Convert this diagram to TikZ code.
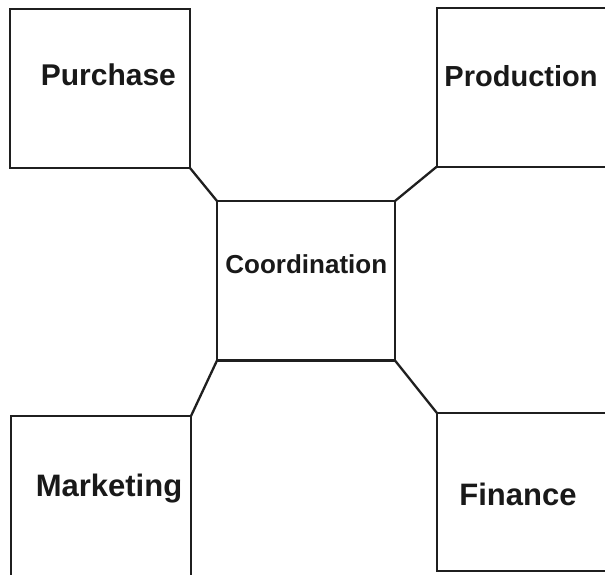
\documentclass[tikz,border=0pt]{standalone}
\usepackage{fontspec}
\setmainfont{Liberation Sans}
\begin{document}
\begin{tikzpicture}[x=1pt,y=-1pt,
  box/.style={draw=black!88, line width=2.3pt, rectangle, inner sep=0pt, outer sep=0pt},
  link/.style={draw=black!88, line width=2.3pt},
  lbl/.style={text=black!90, anchor=base, inner sep=0pt, font=\bfseries\fontsize{#1}{#1}\selectfont}]
\useasboundingbox (0,0) rectangle (605,574);
\clip (0,0) rectangle (605,574);
\fill[white] (0,0) rectangle (605,574);
% boxes
\node[box, minimum width=180pt, minimum height=159pt] (pur) at (100,88.5) {};
\node[box, minimum width=183.3pt, minimum height=158.7pt] (prod) at (528.35,87.35) {};
\node[box, minimum width=178pt, minimum height=159.5pt] (coord) at (306,280.75) {};
\node[box, minimum width=180pt, minimum height=174pt] (mkt) at (101,503) {};
\node[box, minimum width=183.3pt, minimum height=158.3pt] (fin) at (528.35,491.85) {};
% labels
\node[lbl=30] (tpur) at (108.4,85) {Purchase};
\node[lbl=29] (tprod) at (521,86) {Production};
\node[lbl=26] (tcoord) at (306.3,273) {Coordination};
\node[lbl=31] (tmkt) at (109,496) {Marketing};
\node[lbl=31] (tfin) at (518,505) {Finance};
% connectors
\draw[link] (pur.south east) -- (coord.north west);
\draw[link] (prod.south west) -- (coord.north east);
\draw[link] (mkt.north east) -- (coord.south west);
\draw[link] (fin.north west) -- (coord.south east);
\end{tikzpicture}
\end{document}
